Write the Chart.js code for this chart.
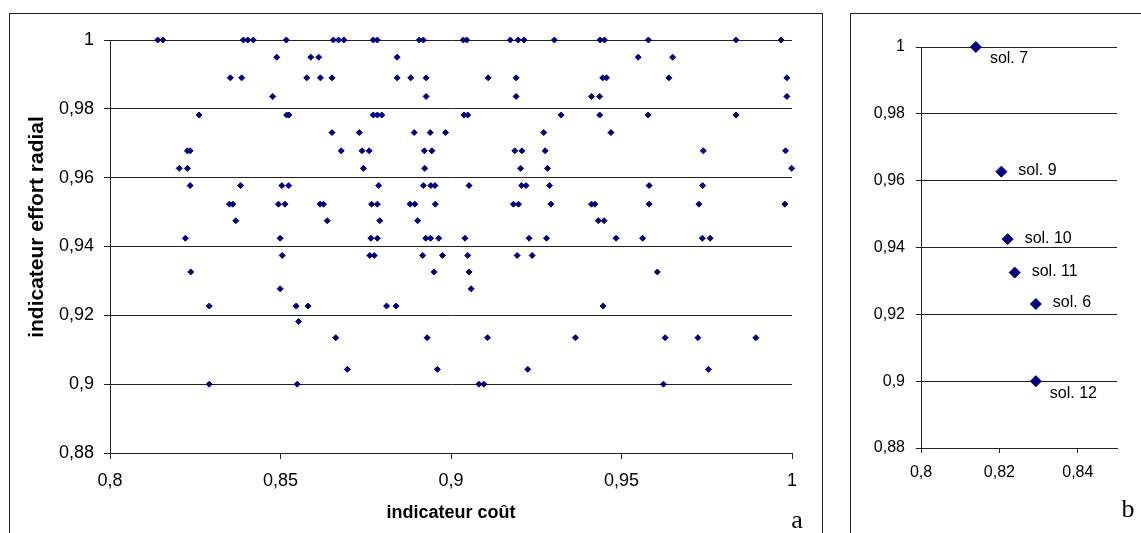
<!DOCTYPE html>
<html>
<head>
<meta charset="utf-8">
<script src="https://cdn.jsdelivr.net/npm/chart.js@4/dist/chart.umd.min.js"></script>
<style>
body { margin: 0; width: 1141px; height: 533px; overflow: hidden; background: #fff; position: relative; }
.frame { position: absolute; border: 1px solid #222; box-sizing: border-box; }
canvas { position: absolute; }
</style>
</head>
<body>
<div class="frame" style="left:9px;top:13px;width:814px;height:540px"></div>
<div class="frame" style="left:850px;top:13px;width:320px;height:540px"></div>
<canvas id="chartA" width="812" height="520" style="left:10px;top:13px"></canvas>
<canvas id="chartB" width="291" height="520" style="left:850px;top:13px"></canvas>
<script>
// panel a : one list of cost values per radial level
const radialLevels = [1, 0.995, 0.989, 0.9836, 0.9782, 0.9731, 0.9678, 0.9627, 0.9577, 0.9523,
    0.9475, 0.9424, 0.9374, 0.9326, 0.9277, 0.9227, 0.9182, 0.9135, 0.9043, 0.9];
const costByLevel = [
    [0.814, 0.8155, 0.8391, 0.8404, 0.842, 0.8517, 0.8655, 0.867, 0.8686, 0.8772, 0.8784, 0.8907, 0.8919,
     0.9036, 0.9046, 0.9174, 0.9197, 0.9214, 0.9303, 0.9437, 0.945, 0.9579, 0.9836, 0.9968],
    [0.8489, 0.8589, 0.8612, 0.8842, 0.9549, 0.965],
    [0.8353, 0.8386, 0.8577, 0.8617, 0.8651, 0.8842, 0.8882, 0.8927, 0.9109, 0.9191, 0.9445, 0.9456, 0.9639, 0.9985],
    [0.8477, 0.8927, 0.9191, 0.9412, 0.9436, 0.9985],
    [0.8261, 0.8518, 0.8525, 0.8772, 0.8784, 0.8797, 0.9038, 0.9049, 0.9323, 0.9436, 0.9578, 0.9836],
    [0.8651, 0.8731, 0.8892, 0.8939, 0.8984, 0.9272, 0.9469],
    [0.8227, 0.8235, 0.8678, 0.8739, 0.876, 0.8922, 0.8944, 0.9187, 0.9208, 0.9276, 0.974, 0.9981],
    [0.8203, 0.8227, 0.8743, 0.8923, 0.9204, 0.9283, 0.9999],
    [0.8235, 0.8383, 0.8504, 0.8524, 0.8788, 0.8919, 0.8941, 0.8953, 0.9053, 0.9207, 0.922, 0.9289, 0.9581, 0.9738],
    [0.835, 0.836, 0.8494, 0.8513, 0.8616, 0.8626, 0.8767, 0.8784, 0.888, 0.8894, 0.8954, 0.9183, 0.9198,
     0.9293, 0.9412, 0.9422, 0.9581, 0.9727, 0.9979],
    [0.8369, 0.8637, 0.8791, 0.8902, 0.9432, 0.9449],
    [0.8221, 0.8499, 0.8765, 0.8784, 0.8926, 0.894, 0.8964, 0.9041, 0.9229, 0.928, 0.9484, 0.9562, 0.9737, 0.976],
    [0.8505, 0.8762, 0.8775, 0.8917, 0.8975, 0.9049, 0.9194, 0.9238],
    [0.8237, 0.895, 0.9053, 0.9605],
    [0.8499, 0.9059],
    [0.8291, 0.8546, 0.8581, 0.8811, 0.8839, 0.9446],
    [0.8553],
    [0.8662, 0.893, 0.9107, 0.9365, 0.9628, 0.9724, 0.9894],
    [0.8696, 0.896, 0.9225, 0.9755],
    [0.8291, 0.8549, 0.9082, 0.9096, 0.9623]
];

// panel b : labelled solutions
const solLabels = ['sol. 7', 'sol. 9', 'sol. 10', 'sol. 11', 'sol. 6', 'sol. 12'];
const solCost = [0.814, 0.8205, 0.8221, 0.8239, 0.8293, 0.8293];
const solRadial = [1, 0.9627, 0.9425, 0.9325, 0.9231, 0.9];
const solPlacement = ['below', 'right', 'right', 'right', 'right', 'below'];

const navy = '#000080';
const lineCol = '#222';
const sans = "'Liberation Sans', Arial, sans-serif";
Chart.defaults.color = '#000';
Chart.defaults.font.family = sans;

const fmt = v => String(Math.round(v * 100) / 100).replace('.', ',');

const pointsA = [];
radialLevels.forEach((lvl, i) => {
    costByLevel[i].forEach(c => pointsA.push({x: c, y: lvl}));
});

const letter = (txt, x, y) => ({
    id: 'letter',
    afterDraw(chart) {
        const ctx = chart.ctx;
        ctx.save();
        ctx.font = "26px 'Liberation Serif', serif";
        ctx.fillStyle = '#000';
        ctx.textAlign = 'center';
        ctx.textBaseline = 'alphabetic';
        ctx.fillText(txt, x, y);
        ctx.restore();
    }
});

// y title sits a bit above the middle of the axis in the original
const yTitle = {
    id: 'yTitle',
    afterDraw(chart) {
        const ctx = chart.ctx;
        ctx.save();
        ctx.translate(27, 214);
        ctx.rotate(-Math.PI / 2);
        ctx.font = 'bold 21px ' + sans;
        ctx.fillStyle = '#000';
        ctx.textAlign = 'center';
        ctx.textBaseline = 'middle';
        ctx.fillText('indicateur effort radial', 0, 0);
        ctx.restore();
    }
};

new Chart(document.getElementById('chartA'), {
    type: 'scatter',
    data: {
        datasets: [{
            data: pointsA,
            pointStyle: 'rectRot',
            pointRadius: 3,
            pointHoverRadius: 3,
            borderWidth: 1,
            backgroundColor: navy,
            borderColor: navy,
            clip: false
        }]
    },
    options: {
        responsive: false,
        animation: false,
        events: [],
        layout: { padding: { left: 0, right: 30, top: 27, bottom: 0 } },
        plugins: { legend: { display: false }, tooltip: { enabled: false } },
        scales: {
            x: {
                min: 0.8, max: 1,
                afterFit: s => { s.height = 80; },
                ticks: { stepSize: 0.05, callback: fmt, font: { size: 18 }, padding: 11, maxRotation: 0 },
                grid: { drawOnChartArea: false, tickLength: 6, color: lineCol },
                border: { color: lineCol },
                title: { display: true, text: 'indicateur coût', font: { size: 18, weight: 'bold' }, padding: { top: 0, bottom: 9 } }
            },
            y: {
                min: 0.88, max: 1,
                afterFit: s => { s.width = 100; },
                ticks: { stepSize: 0.02, callback: fmt, font: { size: 18 }, padding: 10 },
                grid: { tickLength: 6, color: lineCol },
                border: { color: lineCol }
            }
        }
    },
    plugins: [yTitle, letter('a', 787, 515)]
});

const solLabelPlugin = {
    id: 'solLabels',
    afterDatasetsDraw(chart) {
        const ctx = chart.ctx;
        const meta = chart.getDatasetMeta(0);
        ctx.save();
        ctx.font = '16px ' + sans;
        ctx.fillStyle = '#000';
        ctx.textAlign = 'left';
        ctx.textBaseline = 'middle';
        meta.data.forEach((pt, i) => {
            if (solPlacement[i] === 'below') {
                ctx.fillText(solLabels[i], pt.x + 14, pt.y + 12);
            } else {
                ctx.fillText(solLabels[i], pt.x + 17, pt.y - 1);
            }
        });
        ctx.restore();
    }
};

new Chart(document.getElementById('chartB'), {
    type: 'scatter',
    data: {
        datasets: [{
            data: solCost.map((c, i) => ({x: c, y: solRadial[i]})),
            pointStyle: 'rectRot',
            pointRadius: 5.5,
            pointHoverRadius: 5.5,
            borderWidth: 1,
            backgroundColor: navy,
            borderColor: navy,
            clip: false
        }]
    },
    options: {
        responsive: false,
        animation: false,
        events: [],
        layout: { padding: { left: 0, right: 24, top: 34, bottom: 0 } },
        plugins: { legend: { display: false }, tooltip: { enabled: false } },
        scales: {
            x: {
                min: 0.8, max: 0.85,
                afterFit: s => { s.height = 85; },
                ticks: { stepSize: 0.02, includeBounds: false, callback: fmt, font: { size: 16 }, padding: 10, maxRotation: 0 },
                grid: { drawOnChartArea: false, tickLength: 5, color: lineCol },
                border: { color: lineCol }
            },
            y: {
                min: 0.88, max: 1,
                afterFit: s => { s.width = 71; },
                ticks: { stepSize: 0.02, callback: fmt, font: { size: 16 }, padding: 11 },
                grid: { tickLength: 5, color: lineCol },
                border: { color: lineCol }
            }
        }
    },
    plugins: [solLabelPlugin, letter('b', 278, 504)]
});
</script>
</body>
</html>
